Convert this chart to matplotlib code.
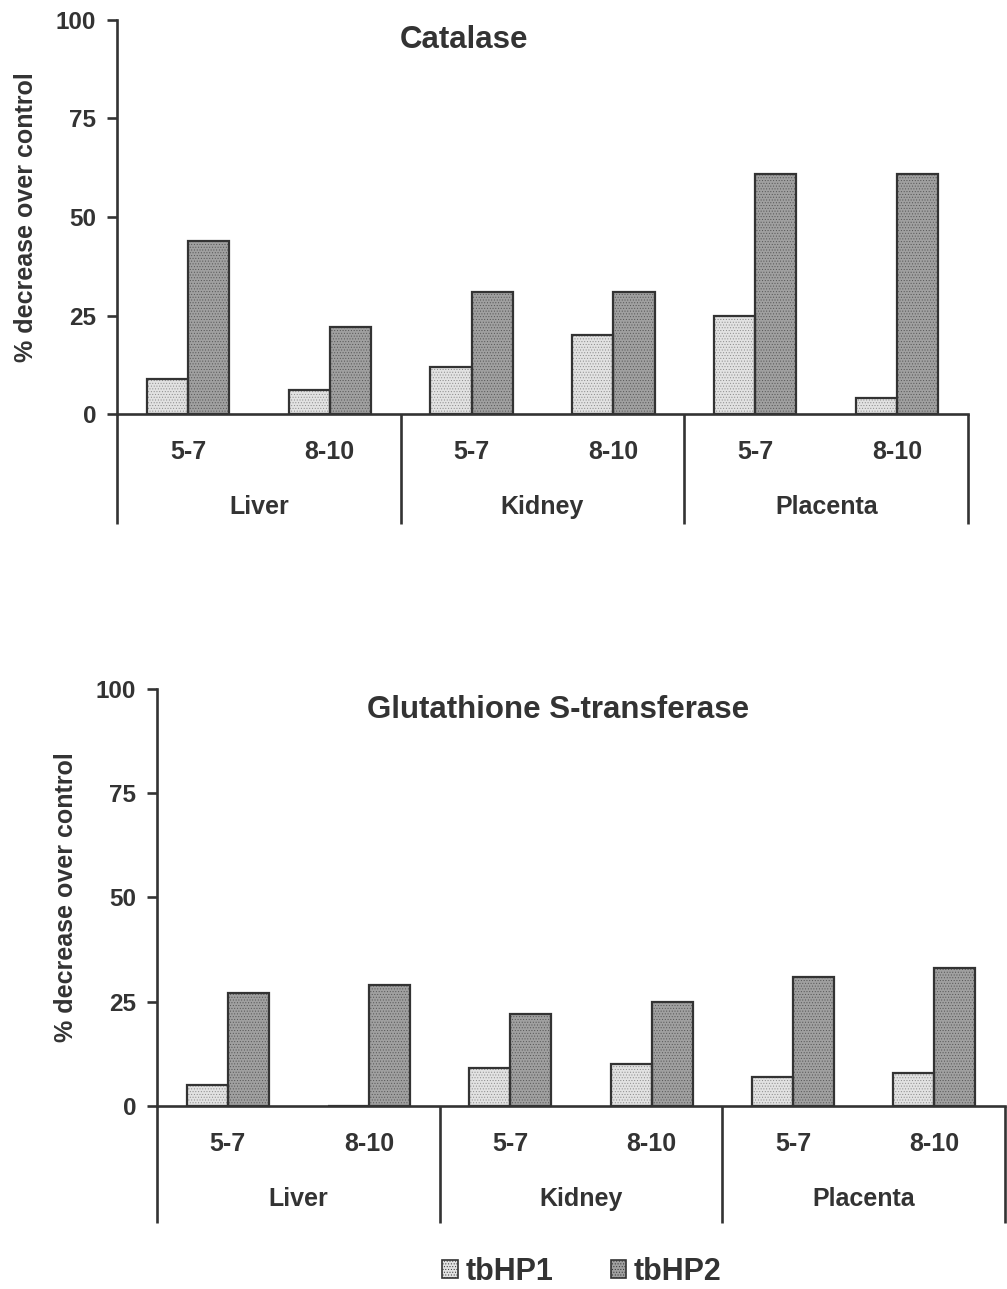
import matplotlib
matplotlib.use("Agg")
import matplotlib.pyplot as plt
from matplotlib.patches import Patch
import numpy as np

# enzyme activity decrease (% over control) by tissue and gestation days
groups = ["Liver", "Kidney", "Placenta"]
days = ["5-7", "8-10", "5-7", "8-10", "5-7", "8-10"]
series = ["tbHP1", "tbHP2"]

catalase_hp1 = [9, 6, 12, 20, 25, 4]
catalase_hp2 = [44, 22, 31, 31, 61, 61]

gst_hp1 = [5, 0, 9, 10, 7, 8]
gst_hp2 = [27, 29, 22, 25, 31, 33]

yticks = [0, 25, 50, 75, 100]

INK = "#333333"
FILL1 = "#e2e2e2"
DOT1 = "#8a8a8a"
FILL2 = "#a0a0a0"
DOT2 = "#555555"

plt.rcParams["font.family"] = ["Liberation Sans", "DejaVu Sans"]
plt.rcParams["font.weight"] = "bold"
plt.rcParams["hatch.linewidth"] = 0.4
plt.rcParams["text.color"] = INK


def draw_bars(ax, x, vals, offset, fill, dot, width):
    # stippled fill first, then a plain outline on top
    ax.bar(x + offset, vals, width, color=fill, edgecolor=dot, hatch="......",
           linewidth=0, zorder=2)
    ax.bar(x + offset, vals, width, fill=False, edgecolor=INK, linewidth=1.6,
           zorder=3)


def panel(ax, hp1, hp2, title, title_x):
    x = np.arange(len(days))
    w = 0.29
    draw_bars(ax, x, hp1, -w / 2, FILL1, DOT1, w)
    draw_bars(ax, x, hp2, w / 2, FILL2, DOT2, w)

    ax.set_xlim(-0.5, len(days) - 0.5)
    ax.set_ylim(0, 100)
    ax.set_yticks(yticks)
    ax.set_yticklabels([str(t) for t in yticks])
    ax.set_xticks([])
    for side in ["top", "right"]:
        ax.spines[side].set_visible(False)
    for side in ["left", "bottom"]:
        ax.spines[side].set_color(INK)
        ax.spines[side].set_linewidth(1.9)
    ax.tick_params(axis="y", direction="out", length=7, width=1.9, color=INK,
                   labelsize=17.5, labelcolor=INK, pad=8)

    trans = ax.get_xaxis_transform()
    # separators between tissues, running below the axis
    for sx in [-0.5, 1.5, 3.5, 5.5]:
        ax.plot([sx, sx], [0, -0.28], transform=trans, color=INK, lw=1.9,
                clip_on=False, solid_capstyle="butt")
    for i, d in enumerate(days):
        ax.annotate(d, (i, 0), xycoords=trans, xytext=(0, -27.5),
                    textcoords="offset points", ha="center", va="center",
                    fontsize=18, fontweight="bold", color=INK)
    for g, name in enumerate(groups):
        ax.annotate(name, (2 * g + 0.5, 0), xycoords=trans, xytext=(0, -67),
                    textcoords="offset points", ha="center", va="center",
                    fontsize=18, fontweight="bold", color=INK)

    ax.text(title_x, 0.95, title, transform=ax.transAxes, ha="center",
            va="center", fontsize=22.5, fontweight="bold", color=INK)
    ax.text(-0.107, 0.5, "% decrease over control", transform=ax.transAxes,
            rotation=90, ha="center", va="center", fontsize=18,
            fontweight="bold", color=INK)


fig = plt.figure(figsize=(10.07, 12.89), dpi=100)
ax1 = fig.add_axes([0.1162, 0.6788, 0.8451, 0.3057])
ax2 = fig.add_axes([0.1559, 0.1420, 0.8421, 0.3235])

panel(ax1, catalase_hp1, catalase_hp2, "Catalase", 0.408)
panel(ax2, gst_hp1, gst_hp2, "Glutathione S-transferase", 0.473)

handles = [
    Patch(facecolor=FILL1, edgecolor=INK, hatch="......", linewidth=1.2),
    Patch(facecolor=FILL2, edgecolor=INK, hatch="......", linewidth=1.2),
]
fig.legend(handles, series, loc="center", bbox_to_anchor=(0.578, 0.0132),
           ncol=2, frameon=False, handlelength=0.5, handleheight=0.5,
           handletextpad=0.25, columnspacing=1.9,
           prop={"weight": "bold", "size": 22})

fig.savefig("out.png", dpi=100)
